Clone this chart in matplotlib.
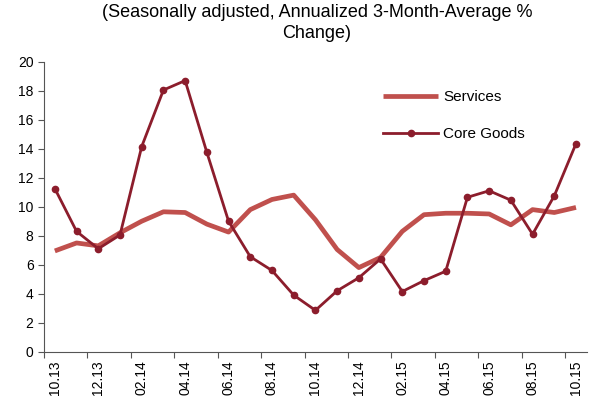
import matplotlib
matplotlib.use("Agg")
import matplotlib.pyplot as plt

plt.rcParams['font.family'] = ['Liberation Sans', 'DejaVu Sans']

# ============ DATA ============
months = ["10.13", "11.13", "12.13", "01.14", "02.14", "03.14", "04.14", "05.14",
          "06.14", "07.14", "08.14", "09.14", "10.14", "11.14", "12.14", "01.15",
          "02.15", "03.15", "04.15", "05.15", "06.15", "07.15", "08.15", "09.15",
          "10.15"]
services = [6.95, 7.5, 7.3, 8.2, 9.0, 9.65, 9.6, 8.8, 8.25, 9.8, 10.5, 10.8,
            9.1, 7.05, 5.8, 6.5, 8.3, 9.45, 9.55, 9.55, 9.5, 8.75, 9.8, 9.6, 9.95]
core_goods = [11.25, 8.3, 7.1, 8.05, 14.15, 18.05, 18.7, 13.75, 9.0, 6.55, 5.6, 3.9,
              2.85, 4.2, 5.1, 6.4, 4.15, 4.9, 5.55, 10.65, 11.1, 10.45, 8.1, 10.75, 14.35]
title = "(Seasonally adjusted, Annualized 3-Month-Average %\nChange)"
# ==============================

SERV_COLOR = "#C0504D"
GOODS_COLOR = "#8C1D2C"

fig = plt.figure(figsize=(5.97, 4.01), dpi=100)
ax = fig.add_axes([0.0737, 0.123, 0.9093, 0.723])

x = list(range(len(months)))
ax.plot(x, services, color=SERV_COLOR, linewidth=3.4, label="Services", solid_capstyle="butt")
ax.plot(x, core_goods, color=GOODS_COLOR, linewidth=2, marker="o", markersize=4.5,
        label="Core Goods")

ax.set_xlim(-0.5, len(months) - 0.5)
ax.set_ylim(0, 20)
ax.set_yticks(range(0, 21, 2))

# tick marks between categories, labels every second month
ax.set_xticks([i - 0.5 for i in range(0, len(months) + 1, 2)])
ax.set_xticklabels([])
ax.set_xticks(x[::2], minor=True)
ax.set_xticklabels(months[::2], minor=True, rotation=90, fontsize=10)
ax.tick_params(axis="x", which="minor", length=0, pad=6)
ax.tick_params(axis="x", which="major", length=4, direction="out", color="#555555")
ax.tick_params(axis="y", length=4, direction="out", labelsize=10, color="#555555")

for side in ["top", "right"]:
    ax.spines[side].set_visible(False)
for side in ["left", "bottom"]:
    ax.spines[side].set_color("#555555")

fig.text(0.531, 0.99, title, ha="center", va="top", fontsize=13, linespacing=1.3)

ax.legend(loc="upper left", bbox_to_anchor=(0.6, 0.95), frameon=False,
          handlelength=3.6, handletextpad=0.3, labelspacing=1.5, fontsize=11)

fig.savefig("out.png", dpi=100)
